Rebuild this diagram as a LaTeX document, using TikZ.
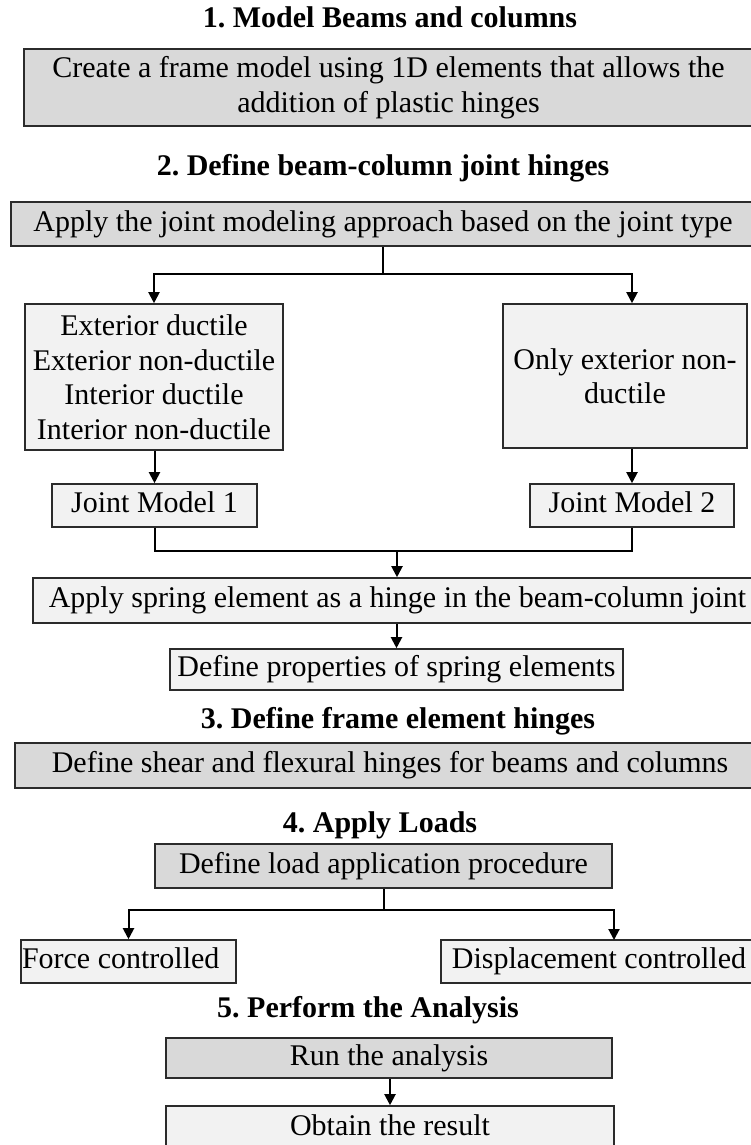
\documentclass[tikz,border=0pt]{standalone}
\usepackage{fontspec}
\setmainfont{Liberation Serif}
\usetikzlibrary{arrows.meta,calc}
\definecolor{fillDark}{HTML}{D9D9D9}
\definecolor{fillLight}{HTML}{F2F2F2}
\definecolor{edge}{HTML}{2B2B2B}
\frenchspacing
\begin{document}
\begin{tikzpicture}[x=1pt,y=1pt,
  font=\fontsize{30}{34.5}\selectfont,
  box/.style={draw=edge, line width=1.6pt, inner sep=0pt, align=center},
  dark/.style={box, fill=fillDark},
  light/.style={box, fill=fillLight},
  oneline/.style={text height=20.5pt, text depth=6.5pt},
  heading/.style={font=\fontsize{30}{34.5}\selectfont\bfseries, anchor=base, inner sep=0pt},
  link/.style={line width=2pt, draw=black},
  arrow/.style={link, -{Triangle[length=11pt,width=11pt]}}]
\useasboundingbox (0,0) rectangle (751,-1145);
\clip (0,0) rectangle (751,-1145);

% step 1
\node[heading] (h1) at (390,-28) {1. Model Beams and columns};
\node[dark, minimum width=729pt, minimum height=77pt] (frame) at (388.5,-87.5)
  {Create a frame model using 1D elements that allows the\\addition of plastic hinges};

% step 2
\node[heading] (h2) at (383,-175) {2. Define beam-column joint hinges};
\node[dark, oneline, minimum width=744pt, minimum height=44pt] (approach) at (383,-224)
  {Apply the joint modeling approach based on the joint type};
\node[light, minimum width=258pt, minimum height=146pt] (types1) at (154,-377)
  {Exterior ductile\\Exterior non-ductile\\Interior ductile\\Interior non-ductile};
\node[light, minimum width=244pt, minimum height=144pt] (types2) at (625,-376)
  {Only exterior non-\\ductile};
\node[light, oneline, minimum width=205pt, minimum height=43pt] (jm1) at (154.5,-505.5) {Joint Model 1};
\node[light, oneline, minimum width=204pt, minimum height=43pt] (jm2) at (632,-505.5) {Joint Model 2};
\node[light, oneline, minimum width=729pt, minimum height=45pt] (spring) at (397.5,-600.5)
  {Apply spring element as a hinge in the beam-column joint};
\node[light, oneline, minimum width=453pt, minimum height=41pt] (props) at (396.5,-669.5)
  {Define properties of spring elements};

% step 3
\node[heading] (h3) at (398,-728) {3. Define frame element hinges};
\node[dark, oneline, minimum width=750pt, minimum height=45pt] (hinges) at (390,-765.5)
  {Define shear and flexural hinges for beams and columns};

% step 4
\node[heading] (h4) at (380,-832) {4. Apply Loads};
\node[dark, oneline, minimum width=457pt, minimum height=44pt] (load) at (383.5,-866)
  {Define load application procedure};
\node[light, oneline, minimum width=215pt, minimum height=43pt]
  (force) at (128.5,-961.5) {\makebox[213pt][l]{Force controlled}};
\node[light, oneline, minimum width=316pt, minimum height=43pt] (disp) at (599,-961.5)
  {Displacement controlled};

% step 5
\node[heading] (h5) at (368,-1017) {5. Perform the Analysis};
\node[dark, oneline, minimum width=446pt, minimum height=40pt] (run) at (389,-1058) {Run the analysis};
\node[light, oneline, minimum width=448pt, minimum height=44pt] (result) at (390,-1128) {Obtain the result};

% connectors
\coordinate (split1) at (383,-274);
\draw[link] (approach.south) -- (split1);
\draw[arrow] (split1) -| (types1.north);
\draw[arrow] (split1) -| (jm2.north |- types2.north);
\draw[arrow] (jm1.north |- types1.south) -- (jm1.north);
\draw[arrow] (jm2.north |- types2.south) -- (jm2.north);
\coordinate (merge) at (397,-551);
\draw[link] (jm1.south) |- (merge) -| (jm2.south);
\draw[arrow] (merge) -- (merge |- spring.north);
\draw[arrow] (props.north |- spring.south) -- (props.north);

\coordinate (split2) at (383.5,-910);
\coordinate (dispin) at (614,-940);
\draw[link] (load.south) -- (split2);
\draw[arrow] (split2) -| (force.north);
\draw[arrow] (split2) -| (dispin);
\draw[arrow] (result.north |- run.south) -- (result.north);
\end{tikzpicture}
\end{document}
